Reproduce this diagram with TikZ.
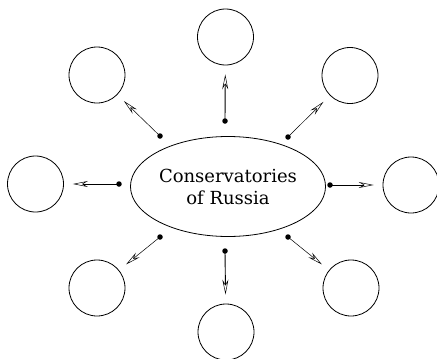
\documentclass[tikz,border=0pt]{standalone}
\usepackage{fontspec}
\setmainfont{DejaVu Serif}
\usetikzlibrary{arrows.meta,shapes.geometric}
\begin{document}
\begin{tikzpicture}[x=1pt,y=-1pt,
  ring/.style={draw,line width=0.8pt,circle,minimum size=56pt,inner sep=0pt},
  dotnode/.style={circle,fill,inner sep=0pt,minimum size=5.5pt},
  arr/.style={line width=0.9pt,-{Stealth[open,length=15pt,width=6pt,inset=5pt,line width=0.5pt]},shorten >=9pt},
  arrthin/.style={arr,line width=0.5pt}]
\useasboundingbox (0,0) rectangle (437,359);
\node[draw,ellipse,line width=0.8pt,minimum width=183pt,minimum height=100pt,inner sep=0pt,
  font=\fontsize{18}{22}\selectfont,align=center] (e) at (228,186.5) {Conservatories\\of Russia};
\node[ring] (cT) at (225.5,37) {};
\node[ring] (cB) at (226,332) {};
\node[ring] (cL) at (35.5,184) {};
\node[ring] (cR) at (411,185) {};
\node[ring] (cTL) at (97,75) {};
\node[ring] (cTR) at (350,75.5) {};
\node[ring] (cBL) at (97,288) {};
\node[ring] (cBR) at (351,288) {};
\node[dotnode] (dT) at (225,121) {};
\node[dotnode] (dB) at (225,251) {};
\node[dotnode] (dL) at (119,184) {};
\node[dotnode] (dR) at (330,185) {};
\node[dotnode] (dTL) at (160,136) {};
\node[dotnode] (dTR) at (288,137) {};
\node[dotnode] (dBL) at (160,237) {};
\node[dotnode] (dBR) at (288,237) {};
\draw[arr] (dT.center) -- (cT);
\draw[arr] (dB.center) -- (cB);
\draw[arr] (dL.center) -- (cL);
\draw[arr] (dR.center) -- (cR);
\draw[arrthin] (dTL.center) -- (cTL);
\draw[arrthin] (dTR.center) -- (cTR);
\draw[arrthin] (dBL.center) -- (cBL);
\draw[arrthin] (dBR.center) -- (cBR);
\end{tikzpicture}
\end{document}
